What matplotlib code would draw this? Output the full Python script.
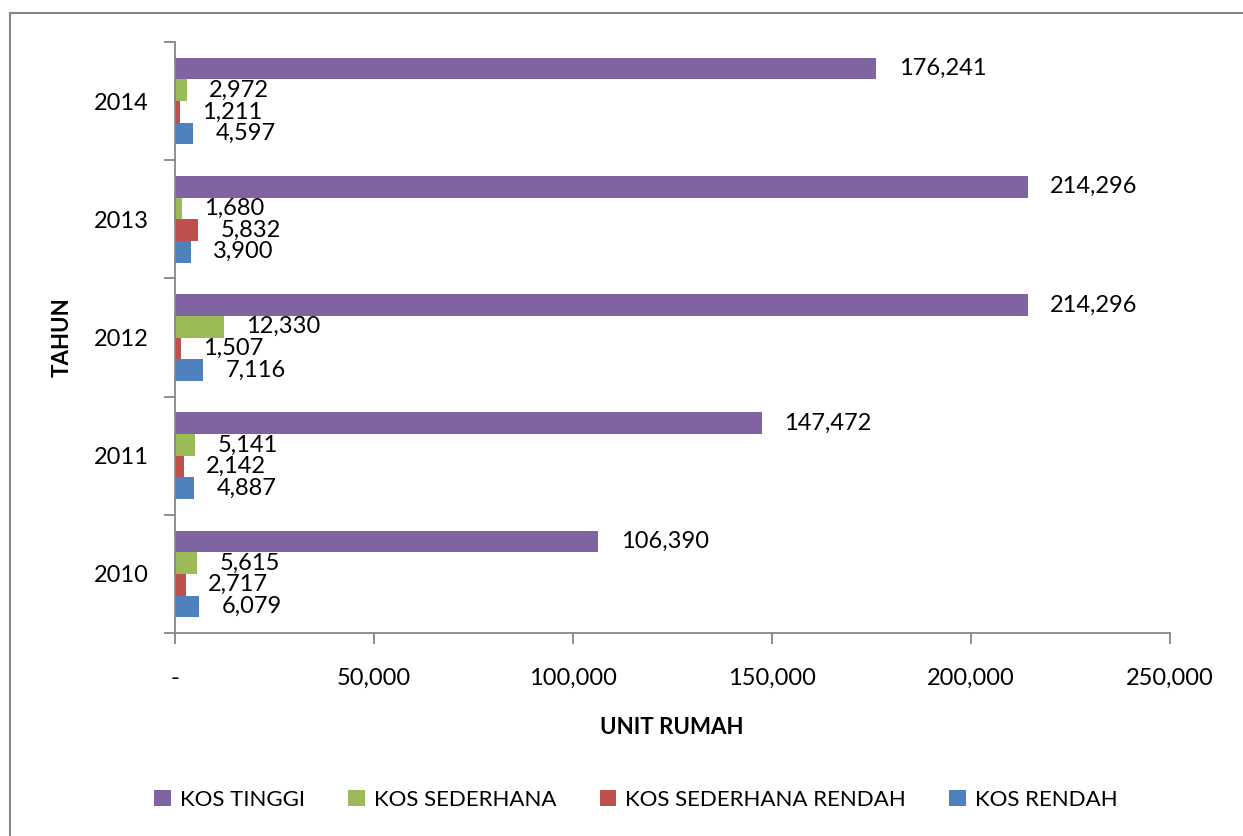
import matplotlib
matplotlib.use('Agg')
import matplotlib.pyplot as plt
import numpy as np
from matplotlib.patches import Patch
from matplotlib.lines import Line2D
from matplotlib.ticker import FuncFormatter, FixedLocator

plt.rcParams['font.family'] = ['Lato', 'DejaVu Sans']

# data
years = ['2010', '2011', '2012', '2013', '2014']
kos_tinggi = [106390, 147472, 214296, 214296, 176241]
kos_sederhana = [5615, 5141, 12330, 1680, 2972]
kos_sederhana_rendah = [2717, 2142, 1507, 5832, 1211]
kos_rendah = [6079, 4887, 7116, 3900, 4597]

series = [
    ('KOS RENDAH', kos_rendah, '#4F81BD'),
    ('KOS SEDERHANA RENDAH', kos_sederhana_rendah, '#C0504D'),
    ('KOS SEDERHANA', kos_sederhana, '#9BBB59'),
    ('KOS TINGGI', kos_tinggi, '#8064A2'),
]

W, H = 1243, 836
fig = plt.figure(figsize=(W / 100, H / 100), dpi=100)
ax = fig.add_axes([175 / W, (H - 633) / H, 995 / W, (633 - 42) / H])

gray = '#868686'
fs = 17
y = np.arange(len(years))
h = 0.1835
for i, (name, vals, col) in enumerate(series):
    pos = y + (i - 1.5) * h
    ax.barh(pos, vals, height=h, color=col, label=name)
    for p, v in zip(pos, vals):
        ax.annotate(f'{v:,}', (v, p), xytext=(16, 0), textcoords='offset points',
                    ha='left', va='center', fontsize=fs)

ax.set_xlim(0, 250000)
ax.set_ylim(-0.5, 4.5)

ax.xaxis.set_major_locator(FixedLocator([0, 50000, 100000, 150000, 200000, 250000]))
ax.xaxis.set_major_formatter(FuncFormatter(lambda v, p: '-' if v == 0 else f'{int(v):,}'))
ax.tick_params(axis='x', direction='out', length=8, width=1.3, color=gray, pad=17, labelsize=fs)

ax.set_yticks(y)
ax.set_yticklabels(years)
ax.set_yticks(np.arange(-0.5, 5, 1), minor=True)
ax.tick_params(axis='y', which='major', length=0, pad=19, labelsize=fs)
ax.tick_params(axis='y', which='minor', direction='out', length=8, width=1.3, color=gray)

for s in ['top', 'right']:
    ax.spines[s].set_visible(False)
for s in ['left', 'bottom']:
    ax.spines[s].set_color(gray)
    ax.spines[s].set_linewidth(1.3)

fig.text(672 / W, 1 - 728 / H, 'UNIT RUMAH', ha='center', va='center',
         fontsize=16, fontweight='bold')
fig.text(62 / W, 1 - 337 / H, 'TAHUN', ha='center', va='center',
         rotation=90, fontsize=16, fontweight='bold')

# legend (reverse order)
handles = [Patch(facecolor=c, label=n) for n, v, c in series[::-1]]
fig.legend(handles=handles, loc='center', bbox_to_anchor=(636 / W, 1 - 800 / H),
           ncol=4, frameon=False, fontsize=16, handlelength=0.75, handleheight=0.75,
           handletextpad=0.4, columnspacing=1.95)

# outer chart border
fig.add_artist(Line2D([10 / W, 10 / W], [0, 1 - 13 / H], transform=fig.transFigure,
                      color=gray, lw=1.5))
fig.add_artist(Line2D([10 / W, 1], [1 - 13 / H, 1 - 13 / H], transform=fig.transFigure,
                      color=gray, lw=1.5))

fig.savefig('out.png', dpi=100)
